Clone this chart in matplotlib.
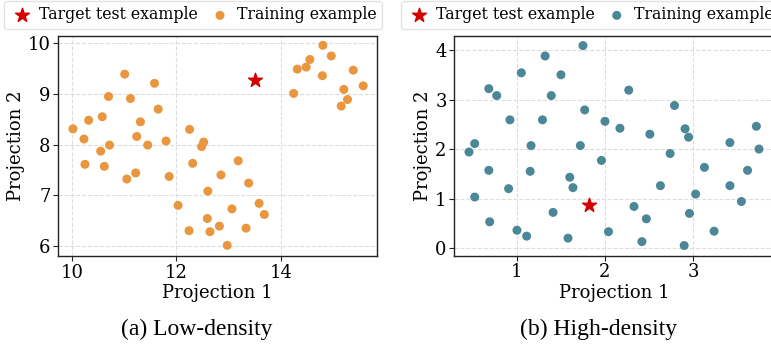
import matplotlib
matplotlib.use("Agg")
import matplotlib.pyplot as plt

# ---- data: low-density panel ----
low_x = [10.02, 10.23, 10.32, 10.58, 10.70, 11.01, 11.12, 11.31, 11.24, 11.58,
         11.65, 11.80, 12.25, 12.52, 12.48, 10.72, 10.55, 10.25, 10.62, 11.05,
         11.22, 11.45, 11.86, 12.31, 13.18, 12.85, 13.38, 12.60, 12.03, 13.58,
         13.68, 13.06, 12.59, 12.82, 13.33, 12.24, 12.64, 12.97,
         14.24, 14.31, 14.48, 14.55, 14.80, 14.96, 14.79, 15.20, 15.38, 15.57,
         15.27, 15.15]
low_y = [8.31, 8.11, 8.48, 8.55, 8.95, 9.39, 8.91, 8.45, 8.16, 9.21,
         8.70, 8.07, 8.30, 8.05, 7.96, 7.99, 7.87, 7.61, 7.57, 7.32,
         7.44, 7.99, 7.37, 7.63, 7.68, 7.40, 7.24, 7.08, 6.80, 6.84,
         6.62, 6.73, 6.54, 6.39, 6.35, 6.30, 6.28, 6.01,
         9.01, 9.49, 9.53, 9.68, 9.96, 9.75, 9.36, 9.09, 9.47, 9.16,
         8.89, 8.76]
low_target = (13.51, 9.27)

# ---- data: high-density panel ----
high_x = [0.68, 0.77, 1.05, 1.32, 1.50, 1.39, 1.75, 2.27, 1.77, 0.92,
          1.29, 2.00, 2.17, 2.51, 2.79, 2.91, 2.95, 3.72, 3.42,
          0.455, 0.52, 1.16, 1.72, 1.96, 0.68, 1.15, 1.60, 1.636, 0.905,
          0.52, 2.74, 2.63, 3.13, 3.03, 3.75, 3.62, 3.42, 3.55,
          1.41, 0.69, 1.00, 1.11, 1.58, 2.04, 2.33, 2.47, 2.42, 2.96,
          3.24, 2.90]
high_y = [3.22, 3.08, 3.54, 3.88, 3.50, 3.08, 4.09, 3.19, 2.79, 2.59,
          2.59, 2.56, 2.42, 2.30, 2.88, 2.41, 2.24, 2.46, 2.13,
          1.94, 2.11, 2.07, 2.07, 1.77, 1.57, 1.55, 1.43, 1.22, 1.20,
          1.03, 1.91, 1.26, 1.63, 1.09, 2.00, 1.57, 1.26, 0.94,
          0.72, 0.53, 0.36, 0.24, 0.20, 0.33, 0.84, 0.59, 0.13, 0.70,
          0.34, 0.05]
high_target = (1.82, 0.86)

low_xticks = [10, 12, 14]
low_yticks = [6, 7, 8, 9, 10]
high_xticks = [1, 2, 3]
high_yticks = [0, 1, 2, 3, 4]

ORANGE = "#E9963E"
TEAL = "#4B8797"
RED = "#D40000"

W, H = 771, 350
fig = plt.figure(figsize=(W / 100, H / 100), dpi=100)
plt.rcParams['font.family'] = 'DejaVu Serif'


def px_axes(left, top, right, bottom):
    return fig.add_axes([left / W, 1 - bottom / H, (right - left) / W, (bottom - top) / H])


def style(ax, xt, yt, xlim, ylim):
    ax.set_xlim(*xlim)
    ax.set_ylim(*ylim)
    ax.set_xticks(xt)
    ax.set_yticks(yt)
    ax.grid(True, linestyle='--', color='#dddddd', linewidth=0.8)
    ax.set_axisbelow(True)
    for s in ax.spines.values():
        s.set_color('#222222')
        s.set_linewidth(1.0)
    ax.tick_params(labelsize=13, length=3.5, width=0.8, color='#222222', pad=2)
    ax.set_xlabel('Projection 1', fontsize=13, labelpad=2)
    ax.set_ylabel('Projection 2', fontsize=13, labelpad=2)


ax1 = px_axes(58.3, 35.7, 377.3, 256)
ax1.scatter(low_x, low_y, s=42, color=ORANGE, edgecolors='none',
            label='Training example', zorder=3)
ax1.scatter([low_target[0]], [low_target[1]], marker='*', s=110, color=RED,
            label='Target test example', zorder=4)
style(ax1, low_xticks, low_yticks, (9.74, 15.84), (5.80, 10.15))

ax2 = px_axes(454.3, 35.7, 774.3, 255.7)
ax2.scatter(high_x, high_y, s=42, color=TEAL, edgecolors='none',
            label='Training example', zorder=3)
ax2.scatter([high_target[0]], [high_target[1]], marker='*', s=110, color=RED,
            label='Target test example', zorder=4)
style(ax2, high_xticks, high_yticks, (0.288, 3.924), (-0.155, 4.29))

for ax, lx in ((ax1, 4), (ax2, 400.7)):
    h, l = ax.get_legend_handles_labels()
    fig.legend(h[::-1], l[::-1], loc='upper left', bbox_to_anchor=(lx / W, 1 - 1 / H),
               ncol=2, fontsize=11.3, frameon=True, borderaxespad=0,
               handlelength=1.6, handletextpad=0.3, columnspacing=0.6, borderpad=0.35,
               edgecolor='#dddddd', fancybox=True)

fig.text(197 / W, 1 - 329 / H, '(a) Low-density', family='Liberation Serif',
         fontsize=17, ha='center', va='center')
fig.text(599 / W, 1 - 329 / H, '(b) High-density', family='Liberation Serif',
         fontsize=17, ha='center', va='center')

fig.savefig('out.png', dpi=100)
